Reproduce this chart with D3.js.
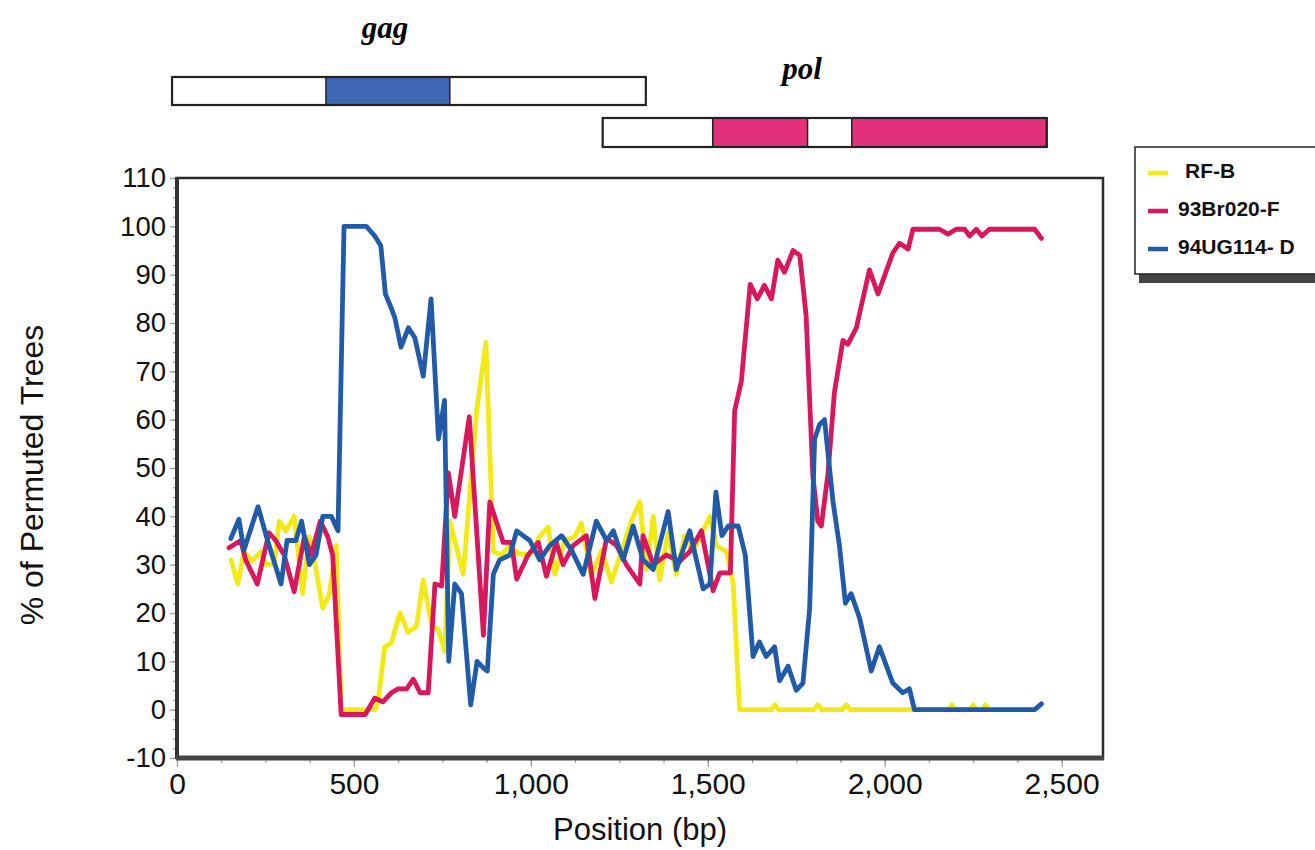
<!DOCTYPE html>
<html>
<head>
<meta charset="utf-8">
<title>Bootscan</title>
<script src="https://d3js.org/d3.v7.min.js"></script>
<style>
  body { margin: 0; background: #fff; }
  text { font-family: "Liberation Sans", Arial, Helvetica, sans-serif; }
</style>
</head>
<body>
<div id="chart"></div>
<script>
// series, [position bp, % of permuted trees]
var rfB = [[153,31],[172,26],[189,32.7],[213,30.7],[237,32.7],[251,30],[275,30.3],[289,39],[308,37],[331,40],
  [355,24],[374,35.8],[388,31],[412,21],[431,24],[450,34],[464,0],[560,0],[568,1.6],[587,13],[606,13.8],[630,20],
  [653,16],[677,17.3],[696,26.8],[720,17.3],[739,16.5],[757,12],[771,39],[809,28],[847,61.8],[873,76],[894,32.7],
  [917,32],[941,34],[964,32.3],[997,32],[1025,35.8],[1049,37.8],[1068,28],[1096,35],[1124,35.8],[1143,38.6],
  [1171,27.6],[1200,33],[1228,26.4],[1256,32.7],[1284,39],[1308,43],[1327,29],[1346,40],[1364,26.8],[1388,36.6],
  [1411,28],[1435,36],[1458,32.7],[1487,37],[1506,40],[1525,33.9],[1553,32.7],[1572,26],[1590,0],[1680,0],[1690,1],
  [1700,0],[1800,0],[1811,1],[1822,0],[1880,0],[1891,1],[1902,0],[2180,0],[2190,1],[2200,0],[2240,0],[2250,1],
  [2260,0],[2275,0],[2285,1],[2295,0]];

var br020F = [[147,33.5],[180,35],[194,31],[227,26],[260,36.6],[279,35],[303,32],[331,24.4],[360,35.8],[379,32],
  [405,39],[426,35.8],[440,32],[464,-1],[532,-1],[559,2.4],[582,1.6],[606,3.5],[625,4.3],[649,4.3],[668,6.3],
  [687,3.5],[710,3.5],[729,26],[748,25.6],[767,49],[785,40],[826,60.6],[866,15.4],[884,43],[922,34.6],[945,34.6],
  [960,27],[992,32],[1021,34.6],[1044,27.6],[1072,34.6],[1091,30],[1120,34],[1157,36],[1181,23],[1214,35.4],
  [1242,34],[1270,30],[1308,26],[1317,36],[1346,30],[1383,32],[1421,30.7],[1449,32.7],[1482,37],[1515,24.6],
  [1534,28.3],[1564,28.3],[1576,61.8],[1595,68],[1620,88],[1640,85],[1660,87.8],[1680,85],[1698,93],[1717,90.5],
  [1741,95],[1760,94],[1778,81.5],[1797,48.4],[1811,39],[1821,38],[1840,49],[1858,65.7],[1882,76.4],[1896,75.6],
  [1920,79],[1957,91],[1981,86],[2023,94.5],[2042,96.5],[2066,95.3],[2080,99.4],[2155,99.4],[2179,98.4],
  [2202,99.4],[2226,99.4],[2240,98],[2259,99.4],[2275,98],[2296,99.4],[2424,99.4],[2443,97.5]];

var ug114D = [[152,35.4],[175,39.4],[189,33],[229,42],[256,35],[294,26],[311,35],[336,35],[352,39],[374,30],
  [393,32],[412,40],[436,40],[455,37],[472,100],[535,100],[559,98],[576,96],[589,86],[606,83],[616,81],[633,75],
  [654,79],[672,77],[696,69],[718,85],[739,56],[756,64],[768,10],[785,26],[804,24],[830,1],[848,10],[868,8.5],
  [877,8],[894,28],[912,31],[941,32],[960,37],[997,35],[1025,31],[1054,34],[1087,36],[1115,33],[1148,28],
  [1185,39],[1214,35],[1233,37],[1261,31],[1289,38],[1317,31],[1346,29],[1388,41],[1411,29],[1449,37],[1487,25],
  [1506,26],[1523,45],[1540,36],[1558,38],[1586,38],[1606,32],[1628,11],[1646,14],[1665,11],[1689,13],[1703,6],
  [1727,9],[1750,4],[1769,5.5],[1788,21],[1802,56],[1816,59],[1830,60],[1854,43],[1872,34],[1889,22],[1905,24],
  [1929,19],[1962,8],[1985,13],[2023,5.5],[2051,3.5],[2070,4.3],[2084,0],[2424,0],[2443,1.2]];

var seriesNames = ["RF-B", "93Br020-F", "94UG114- D"];
var seriesColors = ["#f2ea16", "#d8175c", "#215ba8"];

// gene map (bp)
var geneNames = ["gag", "pol"];
var geneSpans = [[-14, 1325], [1203, 2458]];
var geneFills = [[[421, 771]], [[1514, 1782], [1907, 2458]]];
var geneFillColors = ["#3e67b6", "#e2307a"];

var xTicks = [0, 500, 1000, 1500, 2000, 2500];
var yTicks = d3.range(-10, 111, 10);

var W = 1315, H = 850;
var svg = d3.select("#chart").append("svg").attr("width", W).attr("height", H);

var x = d3.scaleLinear().domain([0, 2617]).range([177, 1103]);
var y = d3.scaleLinear().domain([-10, 110]).range([758, 178]);

// gene boxes
var geneY = [77, 118], geneH = [28, 29];
geneNames.forEach(function(g, i) {
  var gg = svg.append("g");
  gg.append("rect")
    .attr("x", x(geneSpans[i][0])).attr("y", geneY[i])
    .attr("width", x(geneSpans[i][1]) - x(geneSpans[i][0])).attr("height", geneH[i])
    .attr("fill", "#fff");
  geneFills[i].forEach(function(f) {
    gg.append("rect")
      .attr("x", x(f[0])).attr("y", geneY[i])
      .attr("width", x(f[1]) - x(f[0])).attr("height", geneH[i])
      .attr("fill", geneFillColors[i]).attr("stroke", "#222").attr("stroke-width", 1.5);
  });
  gg.append("rect")
    .attr("x", x(geneSpans[i][0])).attr("y", geneY[i])
    .attr("width", x(geneSpans[i][1]) - x(geneSpans[i][0])).attr("height", geneH[i])
    .attr("fill", "none").attr("stroke", "#222").attr("stroke-width", 2.2);
});
svg.append("text").attr("x", 385).attr("y", 38).attr("text-anchor", "middle")
  .style("font-family", "'Liberation Serif', 'Times New Roman', serif")
  .style("font-weight", "bold").style("font-style", "italic").style("font-size", "31px")
  .text(geneNames[0]);
svg.append("text").attr("x", 802).attr("y", 79).attr("text-anchor", "middle")
  .style("font-family", "'Liberation Serif', 'Times New Roman', serif")
  .style("font-weight", "bold").style("font-style", "italic").style("font-size", "31px")
  .text(geneNames[1]);

// axes
var yMinor = svg.append("g").attr("transform", "translate(177,0)")
  .call(d3.axisLeft(y).tickValues(d3.range(-10, 111, 2)).tickSize(4).tickFormat(""));
var yAxis = svg.append("g").attr("transform", "translate(177,0)")
  .call(d3.axisLeft(y).tickValues(yTicks).tickSize(7).tickPadding(4)
    .tickFormat(function(d) { return String(d); }));
var xMinor = svg.append("g").attr("transform", "translate(0,758)")
  .call(d3.axisBottom(x).tickValues(d3.range(0, 2617, 125)).tickSize(5).tickFormat(""));
var xAxis = svg.append("g").attr("transform", "translate(0,758)")
  .call(d3.axisBottom(x).tickValues(xTicks).tickSize(9).tickPadding(6).tickFormat(d3.format(",")));
[yMinor, yAxis, xMinor, xAxis].forEach(function(a) {
  a.select(".domain").remove();
  a.selectAll(".tick line").attr("stroke", "#999").attr("stroke-width", 1.2);
});
yAxis.selectAll("text").style("font-size", "27.5px").attr("fill", "#111");
xAxis.selectAll("text").style("font-size", "30px").attr("fill", "#111");

// lines
var line = d3.line().x(function(d) { return x(d[0]); }).y(function(d) { return y(d[1]); });
[rfB, br020F, ug114D].forEach(function(s, i) {
  svg.append("path").datum(s).attr("d", line)
    .attr("fill", "none").attr("stroke", seriesColors[i])
    .attr("stroke-width", 4.8).attr("stroke-linejoin", "round").attr("stroke-linecap", "round");
});

// frame
svg.append("rect").attr("x", 177).attr("y", 178).attr("width", 926).attr("height", 580)
  .attr("fill", "none").attr("stroke", "#2a2a2a").attr("stroke-width", 2.5);
svg.append("line").attr("x1", 177).attr("x2", 177).attr("y1", 177).attr("y2", 759)
  .attr("stroke", "#333").attr("stroke-width", 4);
svg.append("line").attr("x1", 176).attr("x2", 1104).attr("y1", 758).attr("y2", 758)
  .attr("stroke", "#444").attr("stroke-width", 5);

// axis titles
svg.append("text").attr("x", 640).attr("y", 840).attr("text-anchor", "middle")
  .style("font-size", "31px").attr("fill", "#111").text("Position (bp)");
svg.append("text").attr("transform", "translate(43,475) rotate(-90)").attr("text-anchor", "middle")
  .style("font-size", "32px").attr("fill", "#111").text("% of Permuted Trees");

// legend
var lg = svg.append("g");
lg.append("rect").attr("x", 1139).attr("y", 152).attr("width", 190).attr("height", 131).attr("fill", "#444");
lg.append("rect").attr("x", 1135).attr("y", 147).attr("width", 190).attr("height", 127)
  .attr("fill", "#fff").attr("stroke", "#222").attr("stroke-width", 1.5);
seriesNames.forEach(function(n, i) {
  var cy = 170 + i * 38;
  lg.append("line").attr("x1", 1148).attr("x2", 1168).attr("y1", cy + 3).attr("y2", cy + 3)
    .attr("stroke", seriesColors[i]).attr("stroke-width", 4.5);
  lg.append("text").attr("x", i === 0 ? 1185 : 1178).attr("y", cy).attr("dy", "0.36em")
    .style("font-size", "21px").style("font-weight", "bold").attr("fill", "#111").text(n);
});
</script>
</body>
</html>
